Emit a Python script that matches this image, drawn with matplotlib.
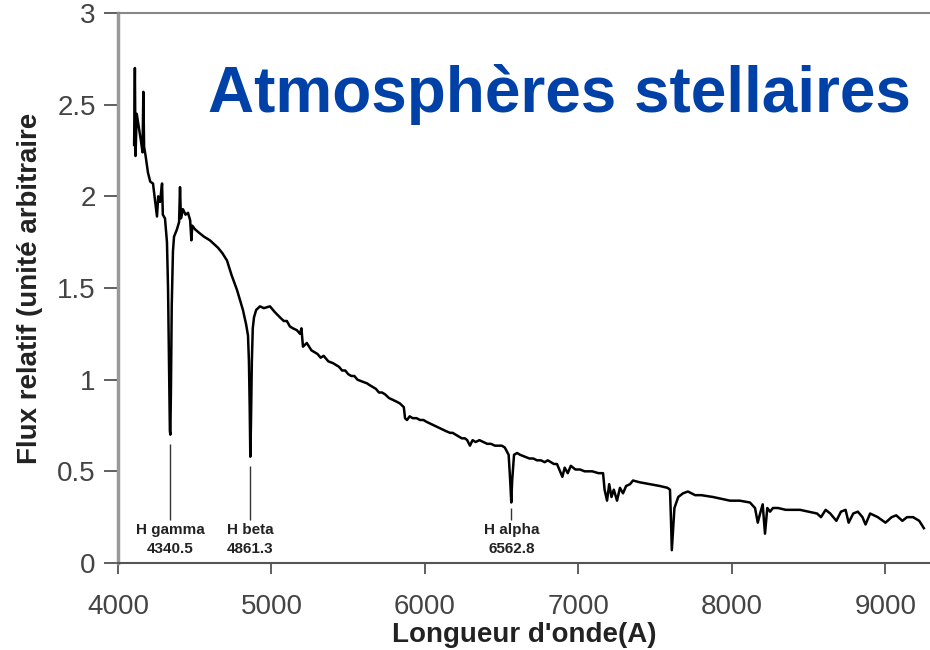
import numpy as np
import matplotlib.pyplot as plt

plt.rcParams['font.family'] = ['Liberation Sans', 'DejaVu Sans']

# spectre relevé (longueur d'onde en A, flux relatif)
wave = [4105, 4110, 4114, 4122, 4135, 4150, 4160, 4165, 4170, 4180,
        4195, 4210, 4228, 4245, 4254, 4262, 4274, 4287, 4292, 4306,
        4319, 4326, 4332, 4338, 4341, 4345, 4350, 4358, 4365, 4384,
        4398, 4404, 4410, 4423, 4440, 4456, 4470, 4478, 4484, 4502,
        4530, 4560, 4599, 4625, 4651, 4680, 4710, 4740, 4775, 4814,
        4835, 4847, 4853, 4858, 4862, 4866, 4872, 4878, 4886, 4900,
        4925, 4950, 4990, 5020, 5055, 5080, 5100, 5120, 5140, 5165,
        5186, 5195, 5205, 5230, 5260, 5280, 5300, 5320, 5340, 5370,
        5401, 5420, 5440, 5460, 5480, 5500, 5520, 5540, 5560, 5590,
        5622, 5640, 5660, 5680, 5700, 5720, 5740, 5765, 5790, 5815,
        5837, 5862, 5870, 5883, 5900, 5920, 5945, 5968, 5990, 6010,
        6035, 6060, 6085, 6110, 6135, 6163, 6180, 6200, 6220, 6240,
        6260, 6275, 6293, 6310, 6330, 6355, 6380, 6405, 6430, 6455,
        6480, 6500, 6520, 6545, 6555, 6562, 6568, 6580, 6600, 6620,
        6650, 6680, 6705, 6730, 6755, 6780, 6800, 6820, 6840, 6860,
        6880, 6895, 6910, 6930, 6950, 6980, 7010, 7040, 7056, 7090,
        7130, 7160, 7170, 7186, 7200, 7215, 7230, 7251, 7270, 7290,
        7310, 7336, 7355, 7400, 7466, 7530, 7580, 7596, 7602, 7608,
        7614, 7625, 7650, 7681, 7713, 7760, 7800, 7876, 7930, 7987,
        8050, 8117, 8150, 8168, 8183, 8200, 8215, 8230, 8248, 8267,
        8300, 8350, 8400, 8443, 8500, 8554, 8580, 8610, 8640, 8680,
        8710, 8740, 8760, 8790, 8820, 8850, 8870, 8900, 8950, 9000,
        9040, 9070, 9110, 9140, 9180, 9220, 9250]
flux = [2.28, 2.70, 2.22, 2.45, 2.38, 2.30, 2.24, 2.57, 2.27, 2.22,
        2.13, 2.08, 2.07, 1.95, 1.89, 2.00, 1.97, 2.07, 1.90, 1.88,
        1.75, 1.50, 1.10, 0.72, 0.70, 0.95, 1.40, 1.70, 1.78, 1.82,
        1.86, 2.05, 1.88, 1.93, 1.90, 1.91, 1.87, 1.76, 1.84, 1.82,
        1.80, 1.78, 1.76, 1.74, 1.72, 1.69, 1.65, 1.57, 1.49, 1.38,
        1.30, 1.24, 1.10, 0.85, 0.58, 0.75, 1.10, 1.28, 1.34, 1.38,
        1.40, 1.39, 1.40, 1.37, 1.34, 1.32, 1.32, 1.29, 1.28, 1.27,
        1.25, 1.28, 1.18, 1.20, 1.16, 1.15, 1.14, 1.12, 1.13, 1.10,
        1.09, 1.08, 1.07, 1.05, 1.05, 1.03, 1.02, 1.02, 1.00, 0.99,
        0.98, 0.97, 0.96, 0.95, 0.93, 0.93, 0.92, 0.90, 0.89, 0.88,
        0.87, 0.85, 0.79, 0.78, 0.80, 0.79, 0.79, 0.78, 0.78, 0.77,
        0.76, 0.75, 0.74, 0.73, 0.72, 0.71, 0.71, 0.70, 0.69, 0.68,
        0.68, 0.67, 0.64, 0.67, 0.66, 0.67, 0.66, 0.65, 0.65, 0.64,
        0.64, 0.64, 0.63, 0.59, 0.45, 0.33, 0.45, 0.59, 0.60, 0.59,
        0.58, 0.57, 0.57, 0.56, 0.56, 0.55, 0.56, 0.55, 0.54, 0.54,
        0.50, 0.47, 0.52, 0.49, 0.53, 0.51, 0.51, 0.50, 0.50, 0.50,
        0.49, 0.49, 0.40, 0.34, 0.43, 0.36, 0.40, 0.34, 0.41, 0.38,
        0.42, 0.43, 0.45, 0.44, 0.43, 0.42, 0.41, 0.40, 0.25, 0.07,
        0.15, 0.30, 0.36, 0.38, 0.39, 0.37, 0.37, 0.36, 0.35, 0.34,
        0.34, 0.33, 0.30, 0.22, 0.27, 0.32, 0.16, 0.30, 0.28, 0.30,
        0.30, 0.29, 0.29, 0.29, 0.28, 0.27, 0.25, 0.29, 0.27, 0.23,
        0.28, 0.29, 0.22, 0.27, 0.28, 0.25, 0.21, 0.27, 0.25, 0.22,
        0.25, 0.26, 0.23, 0.25, 0.25, 0.23, 0.19]

# raies de Balmer repérées
line_names = ["H gamma", "H beta", "H alpha"]
line_waves = [4340.5, 4861.3, 6562.8]
line_tops = [0.65, 0.53, 0.30]

fig = plt.figure(figsize=(9.3, 6.5), dpi=100)
ax = fig.add_axes([118 / 930, 87 / 650, 1 - 118 / 930, 550 / 650])

ax.plot(wave, flux, color='black', lw=1.8)

for name, w, top in zip(line_names, line_waves, line_tops):
    ax.vlines(w, 0.235, top, color='#333333', lw=1.0)
    ax.text(w, 0.18, name, ha='center', va='center', fontsize=11,
            fontweight='bold', color='#222222')
    ax.text(w, 0.075, "%.1f" % w, ha='center', va='center', fontsize=11,
            fontweight='bold', color='#222222')

ax.set_xlim(4000, 9290)
ax.set_ylim(0, 3)
ax.set_xticks([4000, 5000, 6000, 7000, 8000, 9000])
ax.set_yticks([0, 0.5, 1, 1.5, 2, 2.5, 3])
ax.set_yticklabels(['0', '0.5', '1', '1.5', '2', '2.5', '3'])
ax.tick_params(axis='both', labelsize=20, colors='#444444', direction='out')
ax.tick_params(axis='y', length=10, width=1.2, pad=6)
ax.tick_params(axis='x', length=8, width=1.2, pad=14)

ax.spines['right'].set_visible(False)
ax.spines['left'].set_color('#999999')
ax.spines['left'].set_linewidth(2.5)
ax.spines['top'].set_color('#888888')
ax.spines['top'].set_linewidth(1.5)
ax.spines['bottom'].set_color('#555555')
ax.spines['bottom'].set_linewidth(1.5)

ax.set_xlabel("Longueur d'onde(A)", fontsize=20, fontweight='bold',
              color='#222222', labelpad=2)
ax.set_ylabel("Flux relatif (unité arbitraire", fontsize=20,
              fontweight='bold', color='#222222', labelpad=10)

fig.text(208 / 930, 1 - 112 / 650, "Atmosphères stellaires", fontsize=46,
         fontweight='bold', color='#0041A8', va='baseline', ha='left')

fig.savefig('out.png', dpi=100)
